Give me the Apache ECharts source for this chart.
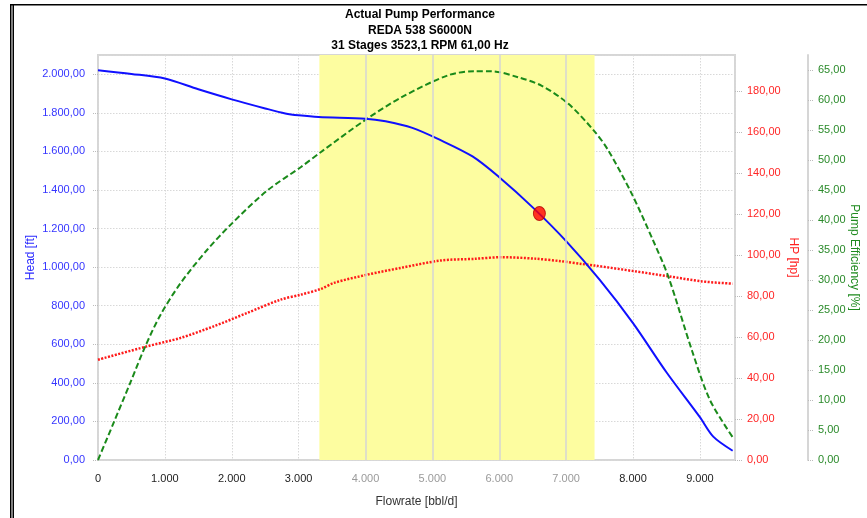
<!DOCTYPE html>
<html><head><meta charset="utf-8">
<script src="https://cdn.jsdelivr.net/npm/echarts@6/dist/echarts.min.js"></script>
<style>html,body{margin:0;padding:0;background:#fff;overflow:hidden}#c{width:867px;height:518px}</style>
</head><body><div id="c"></div>
<script>
// ---- data ----
var titleLines = ['Actual Pump Performance', 'REDA 538 S6000N', '31 Stages 3523,1 RPM 61,00 Hz'];
var xTicks = [0, 1000, 2000, 3000, 4000, 5000, 6000, 7000, 8000, 9000];
var grayTicks = [4000, 5000, 6000, 7000];
var bandRange = [3310, 7425];
var headFlow = [0, 500, 1000, 1500, 2000, 2500, 2800, 3000, 3300, 4000, 4300, 4700, 5100, 5600, 6000, 6500, 7000, 7500, 8000, 8500, 9000, 9200, 9490];
var headVal  = [2021, 2002, 1978, 1922, 1870, 1823, 1797, 1787, 1778, 1770, 1756, 1722, 1662, 1574, 1466, 1310, 1135, 935, 710, 455, 222, 121, 48];
var effFlow = [0, 230, 480, 705, 930, 1230, 1630, 2000, 2530, 3030, 3330, 4000, 4530, 5230, 5630, 5880, 6280, 6630, 7030, 7430, 7630, 7980, 8300, 8530, 8880, 9150, 9490];
var effVal  = [0, 6.1, 12.8, 18.9, 24.1, 29.4, 35.0, 39.4, 44.9, 48.8, 51.3, 56.7, 60.4, 64.1, 64.8, 64.8, 63.8, 62.4, 59.4, 54.7, 51.6, 44.4, 36.6, 30.5, 18.3, 10.0, 3.8];
var hpFlow = [0, 730, 1230, 1730, 2230, 2730, 3030, 3330, 3530, 4030, 4530, 5130, 5630, 6030, 6530, 6930, 7230, 7430, 8030, 8530, 9030, 9490];
var hpVal  = [48.9, 55.4, 59.5, 65.2, 71.7, 78.2, 80.6, 83.4, 86.4, 90.4, 93.7, 97.3, 98.1, 98.9, 98.2, 96.9, 95.6, 94.8, 92.0, 89.6, 87.1, 86.0];
var opPoint = [6600, 1278];

function pair(xs, ys) { return xs.map(function (x, i) { return [x, ys[i]]; }); }
function de(v, dec) {
  var s = v.toFixed(dec), parts = s.split('.');
  parts[0] = parts[0].replace(/\B(?=(\d{3})+(?!\d))/g, '.');
  return parts.length > 1 ? parts[0] + ',' + parts[1] : parts[0];
}
var FONT = 'Liberation Sans';
var chart = echarts.init(document.getElementById('c'), null, {renderer: 'canvas', width: 867, height: 518});
chart.setOption({
  animation: false,
  textStyle: {fontFamily: FONT},
  title: {
    text: titleLines.join('\n'), left: 415, top: 2, textAlign: 'center',
    textStyle: {fontFamily: FONT, fontSize: 12, fontWeight: 'bold', color: '#000', lineHeight: 15.5}
  },
  graphic: [
    {type: 'rect', shape: {x: 10, y: 4, width: 1.5, height: 520}, style: {fill: '#000'}},
    {type: 'rect', shape: {x: 12.5, y: 4, width: 1.5, height: 520}, style: {fill: '#000'}},
    {type: 'rect', shape: {x: 10, y: 4, width: 860, height: 1.5}, style: {fill: '#000'}}
  ],
  grid: {left: 98, right: 132, top: 55, bottom: 58, containLabel: false, outerBoundsMode: 'none',
    show: true, borderColor: '#d6d6d6', borderWidth: 2, backgroundColor: 'transparent'},
  xAxis: {
    type: 'value', min: 0, max: 9525, interval: 1000,
    name: 'Flowrate [bbl/d]', nameLocation: 'middle', nameGap: 36, nameMoveOverlap: false,
    nameTextStyle: {fontFamily: FONT, fontSize: 12, color: '#333'},
    axisLine: {show: false}, axisTick: {show: false},
    axisLabel: {
      margin: 13, fontFamily: FONT, fontSize: 11, showMaxLabel: false,
      formatter: function (v) {
        if (xTicks.indexOf(v) < 0) return '';
        return grayTicks.indexOf(v) >= 0 ? '{g|' + de(v, 0) + '}' : '{d|' + de(v, 0) + '}';
      },
      rich: {g: {color: '#9a9a9a', fontSize: 11, fontFamily: FONT}, d: {color: '#222', fontSize: 11, fontFamily: FONT}}
    },
    splitLine: {show: true, lineStyle: {color: '#d8d8d8', type: [1.5, 1.5], width: 1}}
  },
  yAxis: [
    {
      type: 'value', min: 0, max: 2100, interval: 200, position: 'left',
      name: 'Head [ft]', nameLocation: 'middle', nameGap: 61, nameRotate: 90, nameMoveOverlap: false,
      nameTextStyle: {fontFamily: FONT, fontSize: 12, color: '#2a2aff'},
      axisLine: {show: false},
      axisTick: {show: true, length: 6, lineStyle: {color: '#bbb', type: [1, 1]}},
      axisLabel: {color: '#3535ff', fontSize: 11, fontFamily: FONT, margin: 13, showMaxLabel: false,
        formatter: function (v) { return v % 200 === 0 ? de(v, 2) : ''; }},
      splitLine: {show: true, lineStyle: {color: '#d8d8d8', type: [1.5, 1.5], width: 1}}
    },
    {
      type: 'value', min: 0, max: 197.5, interval: 20, position: 'right',
      name: 'HP [hp]', nameLocation: 'middle', nameGap: 52, nameRotate: -90, nameMoveOverlap: false,
      nameTextStyle: {fontFamily: FONT, fontSize: 12, color: '#ff2020'},
      axisLine: {show: false},
      axisTick: {show: true, length: 7, lineStyle: {color: '#bbb', type: [1, 1]}},
      axisLabel: {color: '#ff2525', fontSize: 11, fontFamily: FONT, margin: 12, showMaxLabel: false,
        formatter: function (v) { return v % 20 === 0 ? de(v, 2) : ''; }},
      splitLine: {show: false}
    },
    {
      type: 'value', min: 0, max: 67.5, interval: 5, position: 'right', offset: 73,
      name: 'Pump Efficiency [%]', nameLocation: 'middle', nameGap: 40, nameRotate: -90, nameMoveOverlap: false,
      nameTextStyle: {fontFamily: FONT, fontSize: 12, color: '#1f8a1f'},
      axisLine: {show: true, lineStyle: {color: '#d6d6d6', width: 2}},
      axisTick: {show: true, length: 6, lineStyle: {color: '#bbb', type: [1, 1]}},
      axisLabel: {color: '#2a8a2a', fontSize: 11, fontFamily: FONT, margin: 10, showMaxLabel: false,
        formatter: function (v) { return v % 5 === 0 ? de(v, 2) : ''; }},
      splitLine: {show: false}
    }
  ],
  series: [
    {
      type: 'line', z: -1, data: [], silent: true,
      markArea: {silent: true, itemStyle: {color: '#fdfda0'}, data: [[{xAxis: bandRange[0]}, {xAxis: bandRange[1]}]]},
      markLine: {silent: true, symbol: 'none', label: {show: false},
        lineStyle: {color: '#d4d4d4', type: 'solid', width: 1.5},
        data: grayTicks.map(function (v) { return {xAxis: v}; })}
    },
    {
      name: 'HP', type: 'line', yAxisIndex: 1, data: pair(hpFlow, hpVal), showSymbol: false,
      smooth: 0.3, lineStyle: {color: '#ff1a1a', width: 2.5, type: [2, 1.5]}
    },
    {
      name: 'Efficiency', type: 'line', yAxisIndex: 2, data: pair(effFlow, effVal), showSymbol: false,
      smooth: 0.3, lineStyle: {color: '#1a8a1a', width: 2, type: [6, 3]}
    },
    {
      name: 'Head', type: 'line', yAxisIndex: 0, data: pair(headFlow, headVal), showSymbol: false,
      smooth: 0.3, lineStyle: {color: '#1010ff', width: 2}
    },
    {
      name: 'Operating point', type: 'scatter', yAxisIndex: 0, data: [opPoint],
      symbol: 'circle', symbolSize: [12, 14], z: 5,
      itemStyle: {color: '#ff0000', borderColor: '#b00000', borderWidth: 1}
    }
  ]
});
</script></body></html>
